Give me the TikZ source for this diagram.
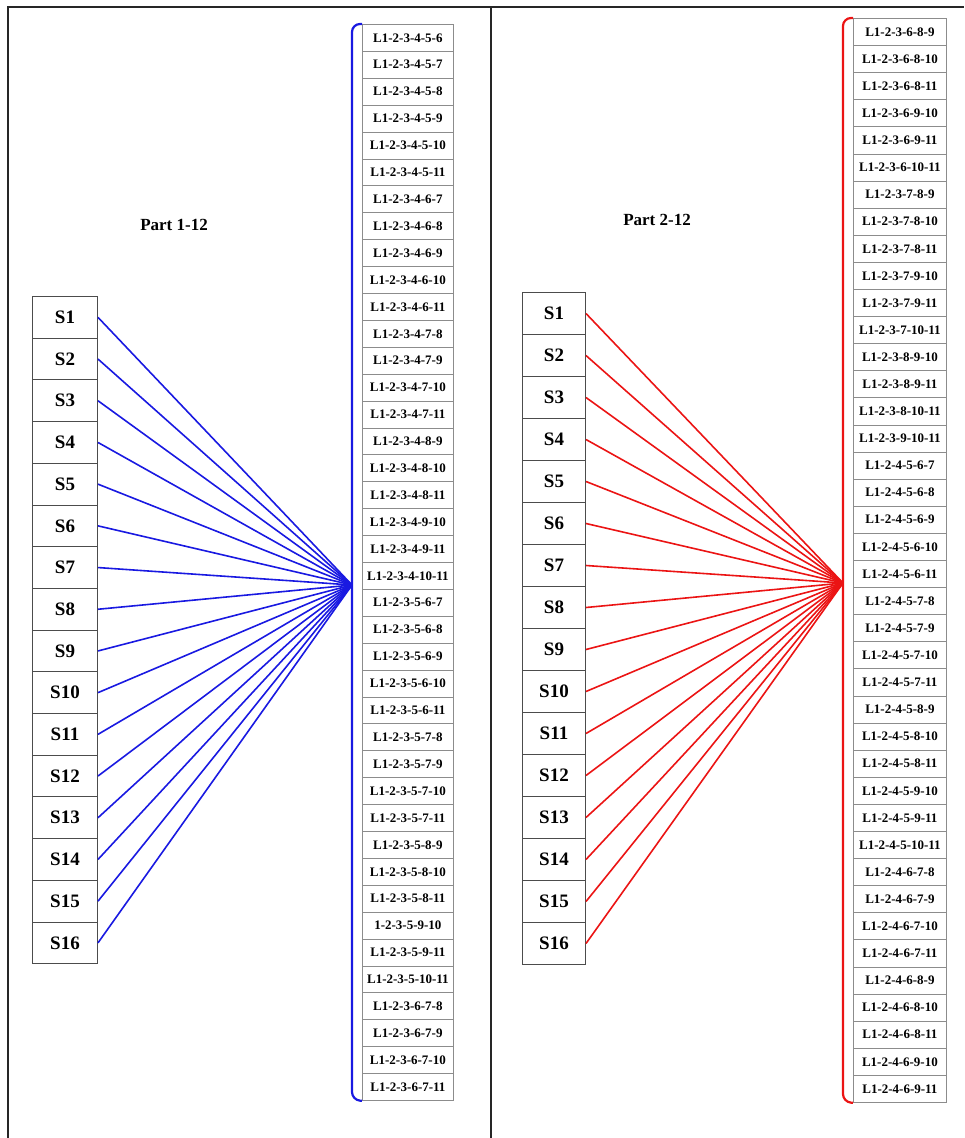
\documentclass[tikz,border=0pt]{standalone}
\usepackage{fontspec}
\setmainfont{Liberation Serif}
\begin{document}
\begin{tikzpicture}[x=1pt,y=-1pt,
  frame/.style={line width=1.4pt, draw=black!85},
  lbox/.style={draw=black!45, line width=0.8pt, minimum height=#1, inner sep=0pt, anchor=north west, font=\bfseries\fontsize{13}{14}\selectfont},
  sbox/.style={draw=black!70, line width=1pt, minimum height=#1, inner sep=0pt, anchor=north west, font=\bfseries\fontsize{19}{20}\selectfont},
  ttl/.style={font=\bfseries\fontsize{17}{18}\selectfont},
  bluel/.style={draw={rgb,255:red,25;green,25;blue,225}, line width=1.6pt},
  bluebr/.style={draw={rgb,255:red,25;green,25;blue,225}, line width=2.2pt, rounded corners=8pt},
  redl/.style={draw={rgb,255:red,235;green,20;blue,20}, line width=1.6pt},
  redbr/.style={draw={rgb,255:red,235;green,20;blue,20}, line width=2.2pt, rounded corners=8pt}
]
\useasboundingbox (0,0) rectangle (964,1138);
% frame
\draw[frame] (8,1138) -- (8,7) -- (964,7);
\draw[frame] (491,7) -- (491,1138);
% titles
\node[ttl] (t1) at (174,225) {Part 1-12};
\node[ttl] (t2) at (657,220) {Part 2-12};
% left list
\foreach \t [count=\i] in {L1-2-3-4-5-6,L1-2-3-4-5-7,L1-2-3-4-5-8,L1-2-3-4-5-9,L1-2-3-4-5-10,L1-2-3-4-5-11,L1-2-3-4-6-7,L1-2-3-4-6-8,L1-2-3-4-6-9,L1-2-3-4-6-10,L1-2-3-4-6-11,L1-2-3-4-7-8,L1-2-3-4-7-9,L1-2-3-4-7-10,L1-2-3-4-7-11,L1-2-3-4-8-9,L1-2-3-4-8-10,L1-2-3-4-8-11,L1-2-3-4-9-10,L1-2-3-4-9-11,L1-2-3-4-10-11,L1-2-3-5-6-7,L1-2-3-5-6-8,L1-2-3-5-6-9,L1-2-3-5-6-10,L1-2-3-5-6-11,L1-2-3-5-7-8,L1-2-3-5-7-9,L1-2-3-5-7-10,L1-2-3-5-7-11,L1-2-3-5-8-9,L1-2-3-5-8-10,L1-2-3-5-8-11,1-2-3-5-9-10,L1-2-3-5-9-11,L1-2-3-5-10-11,L1-2-3-6-7-8,L1-2-3-6-7-9,L1-2-3-6-7-10,L1-2-3-6-7-11}
  \node[lbox=26.9pt, minimum width=91pt] (la\i) at (362,{24+(\i-1)*26.9}) {\t};
% left S boxes
\foreach \i in {1,...,16}
  \node[sbox=41.7pt, minimum width=65pt] (ls\i) at (32,{296+(\i-1)*41.7}) {S\i};
\coordinate (lc) at (352,585);
\foreach \i in {1,...,16}
  \draw[bluel] (ls\i.east) -- (lc);
\draw[bluebr] (la1.north west) -- (352,24) -- (352,1100) -- (la40.south west);
% right list
\foreach \t [count=\i] in {L1-2-3-6-8-9,L1-2-3-6-8-10,L1-2-3-6-8-11,L1-2-3-6-9-10,L1-2-3-6-9-11,L1-2-3-6-10-11,L1-2-3-7-8-9,L1-2-3-7-8-10,L1-2-3-7-8-11,L1-2-3-7-9-10,L1-2-3-7-9-11,L1-2-3-7-10-11,L1-2-3-8-9-10,L1-2-3-8-9-11,L1-2-3-8-10-11,L1-2-3-9-10-11,L1-2-4-5-6-7,L1-2-4-5-6-8,L1-2-4-5-6-9,L1-2-4-5-6-10,L1-2-4-5-6-11,L1-2-4-5-7-8,L1-2-4-5-7-9,L1-2-4-5-7-10,L1-2-4-5-7-11,L1-2-4-5-8-9,L1-2-4-5-8-10,L1-2-4-5-8-11,L1-2-4-5-9-10,L1-2-4-5-9-11,L1-2-4-5-10-11,L1-2-4-6-7-8,L1-2-4-6-7-9,L1-2-4-6-7-10,L1-2-4-6-7-11,L1-2-4-6-8-9,L1-2-4-6-8-10,L1-2-4-6-8-11,L1-2-4-6-9-10,L1-2-4-6-9-11}
  \node[lbox=27.1pt, minimum width=93pt] (ra\i) at (853,{18+(\i-1)*27.1}) {\t};
% right S boxes
\foreach \i in {1,...,16}
  \node[sbox=42pt, minimum width=63pt] (rs\i) at (522,{292+(\i-1)*42}) {S\i};
\coordinate (rc) at (843,583);
\foreach \i in {1,...,16}
  \draw[redl] (rs\i.east) -- (rc);
\draw[redbr] (ra1.north west) -- (843,18) -- (843,1102) -- (ra40.south west);
\end{tikzpicture}
\end{document}
